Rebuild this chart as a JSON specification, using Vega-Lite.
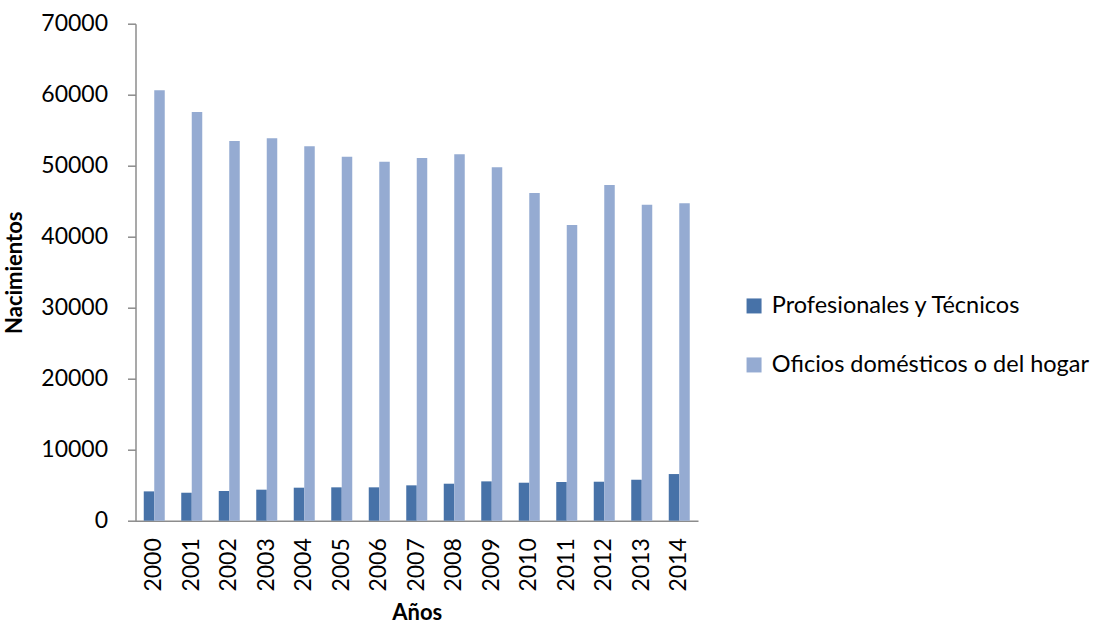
{
  "$schema": "https://vega.github.io/schema/vega-lite/v6.json",
  "autosize": {"type": "none"},
  "width": 562.5,
  "height": 497,
  "padding": {"left": 135.5, "top": 23.7, "right": 399, "bottom": 106.3},
  "background": "white",
  "config": {
    "font": "Lato",
    "view": {"stroke": null},
    "axis": {"grid": false, "domainColor": "#8c8c8c", "domainWidth": 1.5, "tickColor": "#8c8c8c", "tickWidth": 1.5, "labelFont": "Lato", "labelFontSize": 23, "labelColor": "#000000", "titleFont": "Lato", "titleFontSize": 22, "titleFontWeight": "bold", "titleColor": "#000000"}
  },
  "data": {
    "values": [
      {"anio": "2000", "serie": "Profesionales y Técnicos", "nacimientos": 4130},
      {"anio": "2001", "serie": "Profesionales y Técnicos", "nacimientos": 3940},
      {"anio": "2002", "serie": "Profesionales y Técnicos", "nacimientos": 4180},
      {"anio": "2003", "serie": "Profesionales y Técnicos", "nacimientos": 4370},
      {"anio": "2004", "serie": "Profesionales y Técnicos", "nacimientos": 4650},
      {"anio": "2005", "serie": "Profesionales y Técnicos", "nacimientos": 4700},
      {"anio": "2006", "serie": "Profesionales y Técnicos", "nacimientos": 4700},
      {"anio": "2007", "serie": "Profesionales y Técnicos", "nacimientos": 4980},
      {"anio": "2008", "serie": "Profesionales y Técnicos", "nacimientos": 5210},
      {"anio": "2009", "serie": "Profesionales y Técnicos", "nacimientos": 5540},
      {"anio": "2010", "serie": "Profesionales y Técnicos", "nacimientos": 5350},
      {"anio": "2011", "serie": "Profesionales y Técnicos", "nacimientos": 5450},
      {"anio": "2012", "serie": "Profesionales y Técnicos", "nacimientos": 5490},
      {"anio": "2013", "serie": "Profesionales y Técnicos", "nacimientos": 5770},
      {"anio": "2014", "serie": "Profesionales y Técnicos", "nacimientos": 6570},
      {"anio": "2000", "serie": "Oficios domésticos o del hogar", "nacimientos": 60620},
      {"anio": "2001", "serie": "Oficios domésticos o del hogar", "nacimientos": 57560},
      {"anio": "2002", "serie": "Oficios domésticos o del hogar", "nacimientos": 53480},
      {"anio": "2003", "serie": "Oficios domésticos o del hogar", "nacimientos": 53860},
      {"anio": "2004", "serie": "Oficios domésticos o del hogar", "nacimientos": 52730},
      {"anio": "2005", "serie": "Oficios domésticos o del hogar", "nacimientos": 51270},
      {"anio": "2006", "serie": "Oficios domésticos o del hogar", "nacimientos": 50560},
      {"anio": "2007", "serie": "Oficios domésticos o del hogar", "nacimientos": 51080},
      {"anio": "2008", "serie": "Oficios domésticos o del hogar", "nacimientos": 51600},
      {"anio": "2009", "serie": "Oficios domésticos o del hogar", "nacimientos": 49770},
      {"anio": "2010", "serie": "Oficios domésticos o del hogar", "nacimientos": 46150},
      {"anio": "2011", "serie": "Oficios domésticos o del hogar", "nacimientos": 41650},
      {"anio": "2012", "serie": "Oficios domésticos o del hogar", "nacimientos": 47280},
      {"anio": "2013", "serie": "Oficios domésticos o del hogar", "nacimientos": 44510},
      {"anio": "2014", "serie": "Oficios domésticos o del hogar", "nacimientos": 44700}
    ]
  },
  "mark": {"type": "bar"},
  "encoding": {
    "x": {
      "field": "anio",
      "type": "nominal",
      "title": "Años",
      "scale": {"paddingInner": 0.44, "paddingOuter": 0.22},
      "axis": {"labelAngle": -90, "ticks": false, "labelPadding": 17, "titlePadding": 11}
    },
    "xOffset": {
      "field": "serie",
      "type": "nominal",
      "sort": ["Profesionales y Técnicos", "Oficios domésticos o del hogar"],
      "scale": {"paddingInner": 0, "paddingOuter": 0}
    },
    "y": {
      "field": "nacimientos",
      "type": "quantitative",
      "title": "Nacimientos",
      "scale": {"domain": [0, 70000], "nice": false},
      "axis": {"values": [0, 10000, 20000, 30000, 40000, 50000, 60000, 70000], "format": "d", "tickSize": 8, "labelPadding": 20, "titlePadding": 14}
    },
    "color": {
      "field": "serie",
      "type": "nominal",
      "sort": ["Profesionales y Técnicos", "Oficios domésticos o del hogar"],
      "scale": {"domain": ["Profesionales y Técnicos", "Oficios domésticos o del hogar"], "range": ["#4772a8", "#95abd2"]},
      "legend": {
        "title": null,
        "orient": "none",
        "legendX": 606.8,
        "legendY": 270.5,
        "symbolType": "square",
        "symbolSize": 225,
        "symbolStrokeWidth": 0,
        "labelFont": "Lato",
        "labelFontSize": 23.5,
        "labelColor": "#000000",
        "labelOffset": 6,
        "rowPadding": 34,
        "labelLimit": 400
      }
    }
  }
}
